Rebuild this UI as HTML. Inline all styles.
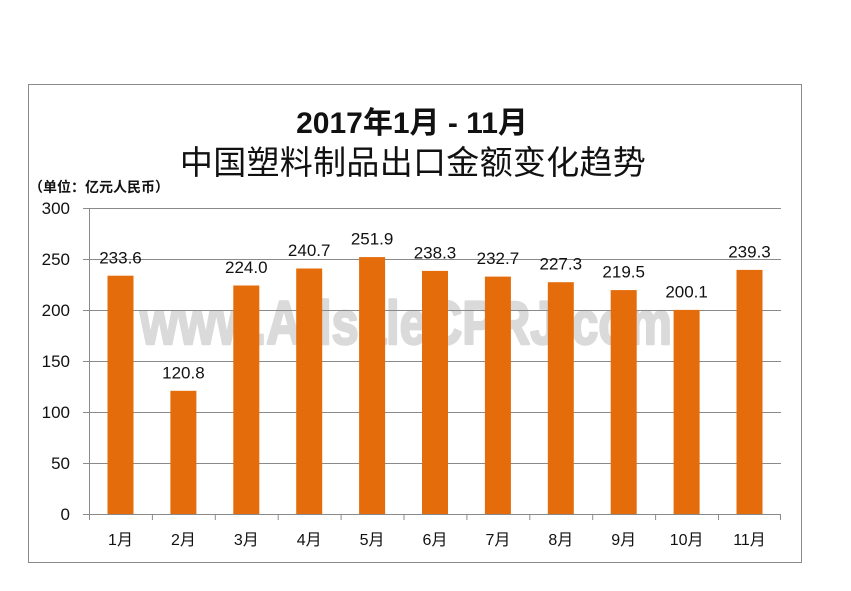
<!DOCTYPE html>
<html>
<head>
<meta charset="utf-8">
<style>
  html, body { margin: 0; padding: 0; background: #ffffff; }
  svg { display: block; }
  .t { font-family: "Liberation Sans", "Noto Sans CJK SC", sans-serif; fill: #111; }
  .wm { font-family: "Liberation Sans", "DejaVu Sans", sans-serif; font-weight: bold; font-size: 49px; fill: #dadada; stroke: #dadada; stroke-width: 2px; stroke-linejoin: round; }
</style>
</head>
<body>
<svg width="851" height="591" viewBox="0 0 851 591" xmlns="http://www.w3.org/2000/svg">
  <rect x="0" y="0" width="851" height="591" fill="#ffffff"/>
  <!-- outer border -->
  <rect x="28.5" y="84.5" width="773" height="478" fill="none" stroke="#8a8a8a" stroke-width="1"/>

  <!-- titles -->
  <text class="t" x="412" y="133" text-anchor="middle" font-size="30" font-weight="bold">2017年1月 - 11月</text>
  <text class="t" x="413" y="174" text-anchor="middle" font-size="33" letter-spacing="0.3">中国塑料制品出口金额变化趋势</text>
  <text class="t" x="29" y="192" font-size="14" font-weight="bold">（单位：亿元人民币）</text>

  <!-- watermark -->
  <g transform="translate(406,344) scale(1,1.25)">
    <text class="wm" x="0" y="0" text-anchor="middle">www.AdsaleCPRJ.com</text>
  </g>

  <!-- gridlines -->
  <g stroke="#8a8a8a" stroke-width="1">
    <line x1="83" y1="208.5" x2="781" y2="208.5"/>
    <line x1="83" y1="259.5" x2="781" y2="259.5"/>
    <line x1="83" y1="310.5" x2="781" y2="310.5"/>
    <line x1="83" y1="361.5" x2="781" y2="361.5"/>
    <line x1="83" y1="412.5" x2="781" y2="412.5"/>
    <line x1="83" y1="463.5" x2="781" y2="463.5"/>
  </g>

  <!-- bars -->
  <g fill="#e46c0a">
    <rect x="107.5" y="275.7" width="26" height="238.3"/>
    <rect x="170.4" y="390.8" width="26" height="123.2"/>
    <rect x="233.3" y="285.5" width="26" height="228.5"/>
    <rect x="296.2" y="268.5" width="26" height="245.5"/>
    <rect x="359.1" y="257.1" width="26" height="256.9"/>
    <rect x="422.0" y="270.9" width="26" height="243.1"/>
    <rect x="484.9" y="276.6" width="26" height="237.4"/>
    <rect x="547.8" y="282.2" width="26" height="231.8"/>
    <rect x="610.7" y="290.1" width="26" height="223.9"/>
    <rect x="673.6" y="309.9" width="26" height="204.1"/>
    <rect x="736.5" y="269.9" width="26" height="244.1"/>
  </g>

  <!-- axes -->
  <g stroke="#8a8a8a" stroke-width="1">
    <line x1="89.5" y1="208" x2="89.5" y2="520"/>
    <line x1="83" y1="514.5" x2="781" y2="514.5"/>
    <line x1="152.4" y1="514" x2="152.4" y2="520"/>
    <line x1="215.3" y1="514" x2="215.3" y2="520"/>
    <line x1="278.2" y1="514" x2="278.2" y2="520"/>
    <line x1="341.1" y1="514" x2="341.1" y2="520"/>
    <line x1="404.0" y1="514" x2="404.0" y2="520"/>
    <line x1="466.9" y1="514" x2="466.9" y2="520"/>
    <line x1="529.8" y1="514" x2="529.8" y2="520"/>
    <line x1="592.7" y1="514" x2="592.7" y2="520"/>
    <line x1="655.6" y1="514" x2="655.6" y2="520"/>
    <line x1="718.5" y1="514" x2="718.5" y2="520"/>
    <line x1="780.5" y1="514" x2="780.5" y2="520"/>
  </g>

  <!-- y labels -->
  <g font-size="17" text-anchor="end">
    <text class="t" x="70" y="214">300</text>
    <text class="t" x="70" y="265">250</text>
    <text class="t" x="70" y="316">200</text>
    <text class="t" x="70" y="367">150</text>
    <text class="t" x="70" y="418">100</text>
    <text class="t" x="70" y="469">50</text>
    <text class="t" x="70" y="520">0</text>
  </g>

  <!-- x labels -->
  <g font-size="16" text-anchor="middle">
    <text class="t" x="120.5" y="545">1月</text>
    <text class="t" x="183.4" y="545">2月</text>
    <text class="t" x="246.3" y="545">3月</text>
    <text class="t" x="309.2" y="545">4月</text>
    <text class="t" x="372.1" y="545">5月</text>
    <text class="t" x="435.0" y="545">6月</text>
    <text class="t" x="497.9" y="545">7月</text>
    <text class="t" x="560.8" y="545">8月</text>
    <text class="t" x="623.7" y="545">9月</text>
    <text class="t" x="686.6" y="545">10月</text>
    <text class="t" x="749.5" y="545">11月</text>
  </g>

  <!-- data labels -->
  <g font-size="17" text-anchor="middle">
    <text class="t" x="120.5" y="263.5">233.6</text>
    <text class="t" x="183.4" y="378.5">120.8</text>
    <text class="t" x="246.3" y="273">224.0</text>
    <text class="t" x="309.2" y="256">240.7</text>
    <text class="t" x="372.1" y="244.5">251.9</text>
    <text class="t" x="435.0" y="258.5">238.3</text>
    <text class="t" x="497.9" y="264">232.7</text>
    <text class="t" x="560.8" y="269.5">227.3</text>
    <text class="t" x="623.7" y="277.5">219.5</text>
    <text class="t" x="686.6" y="297.5">200.1</text>
    <text class="t" x="749.5" y="257.5">239.3</text>
  </g>
</svg>
</body>
</html>
